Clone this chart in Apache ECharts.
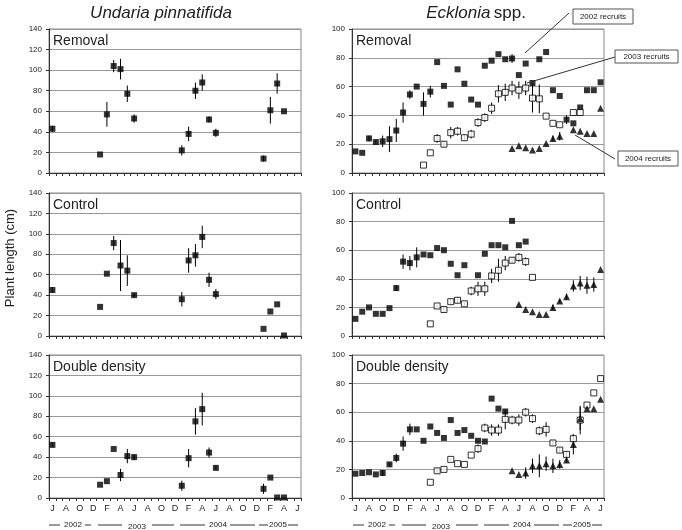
<!DOCTYPE html>
<html>
<head>
<meta charset="utf-8">
<script src="https://cdn.jsdelivr.net/npm/echarts@6.0.0/dist/echarts.min.js"></script>
<style>
  html, body { margin: 0; padding: 0; background: #fff; }
  #chart { width: 682px; height: 530px; }
</style>
</head>
<body>
<div id="chart"></div>
<script>
  const _ = null;

  // 37 months, June 2002 .. June 2005
  const months = ['J','J','A','S','O','N','D',
    'J','F','M','A','M','J','J','A','S','O','N','D',
    'J','F','M','A','M','J','J','A','S','O','N','D',
    'J','F','M','A','M','J'];
  const years = ['2002', '2003', '2004', '2005'];

  // Undaria pinnatifida (mean, +/- error)
  const uRemoval    = [43,_,_,_,_,_,_, 18,57,104,101,77,53, _,_,_,_,_,_, 22,38,80,88,52,39, _,_,_,_,_,_, 14,61,87,60,_,_];
  const uRemovalErr = [3,_,_,_,_,_,_, 0,12,6,10,8,4, _,_,_,_,_,_, 5,7,8,8,3,4, _,_,_,_,_,_, 3,13,10,0,_,_];
  const uControl    = [45,_,_,_,_,_,_, 28.5,61,91,69,64,40, _,_,_,_,_,_, 36,74,79,97,55,41, _,_,_,_,_,_, 7,24,31,0.5,_,_];
  const uControlErr = [3,_,_,_,_,_,_, 0,0,7,25,15,2, _,_,_,_,_,_, 7,12,11,11,7,5, _,_,_,_,_,_, 0,0,0,0,_,_];
  const uDouble     = [52,_,_,_,_,_,_, 13,16.5,48,22.5,41,40, _,_,_,_,_,_, 12,39,75,87,44.5,29.5, _,_,_,_,_,_, 9,20,0.5,0.5,_,_];
  const uDoubleErr  = [2,_,_,_,_,_,_, 0,0,0,6,7,3, _,_,_,_,_,_, 5,9,13,16,5,2, _,_,_,_,_,_, 5,0,0,0,_,_];

  // Ecklonia spp. - 2002 / 2003 / 2004 recruits
  const eRemoval02    = [15,14,24,21.5,22,23.5,29.5,42,54.5,60, 48,56.5,77,60.5,47.5,72,62,51,47.5,74.5, 78,82.5,79,79.5,68,76,62.5,79,84,57.5, 53.5,37,34.5,45.5,57.5,57.5,63];
  const eRemoval02Err = [0,0,2,1,4,9,8,7,3,0, 8,4,0,0,0,0,0,0,0,0, 0,0,0,3,0,0,0,0,0,0, 0,3,0,0,0,0,0];
  const eRemoval03    = [_,_,_,_,_,_,_,_,_,_, 5.5,14,24,20,28,29,24.5,27,35,38.5, 45,55,56,59,57.5,59,52,51.5,39.5,34.5, 33.5,_,42,42,_,_,_];
  const eRemoval03Err = [_,_,_,_,_,_,_,_,_,_, 0,0,3,2,4,3,2,3,3,3, 4,6,6,5,6,5,10,10,0,0, 0,_,0,0,_,_,_];
  const eRemoval04    = [_,_,_,_,_,_,_,_,_,_, _,_,_,_,_,_,_,_,_,_, _,_,_,17,19,17.5,16,17,20.5,24, 25.5,_,30,29,27.5,27.5,45];
  const eRemoval04Err = [_,_,_,_,_,_,_,_,_,_, _,_,_,_,_,_,_,_,_,_, _,_,_,0,0,0,0,0,0,2, 3,_,0,0,0,0,0];

  const eControl02    = [12,17,20,15.5,15.5,19.5,33.5,52,51,55, 57,56.5,61.5,60,50.5,42.5,49.5,_,42.5,57.5, 63.5,63.5,62,80.5,63.5,66,_,_,_,_, _,_,_,_,_,_,_];
  const eControl02Err = [0,0,0,0,0,0,2,5,5,7, 0,0,0,0,0,0,0,_,0,0, 0,0,0,0,0,0,_,_,_,_, _,_,_,_,_,_,_];
  const eControl03    = [_,_,_,_,_,_,_,_,_,_, _,8.5,21,18.5,24,25,22.5,31.5,33,33, 42,46,51,53,55,52,41,_,_,_, _,_,_,_,_,_,_];
  const eControl03Err = [_,_,_,_,_,_,_,_,_,_, _,0,1,2,2,2,1,3,5,5, 5,8,5,2,3,3,0,_,_,_, _,_,_,_,_,_,_];
  const eControl04    = [_,_,_,_,_,_,_,_,_,_, _,_,_,_,_,_,_,_,_,_, _,_,_,_,22,18.5,17,15,15,20, 24.5,27.5,35,37,35.5,36,46.5];
  const eControl04Err = [_,_,_,_,_,_,_,_,_,_, _,_,_,_,_,_,_,_,_,_, _,_,_,_,0,0,0,0,0,2, 1,2,4,5,6,5,0];

  const eDouble02    = [17,17.5,18,16.5,17.5,23.5,28,38,48,48, 40,50,45.5,42,54.5,45.5,47.5,43.5,40,39.5, 69.5,62.5,60.5,_,_,_,_,_,_,_, _,_,_,_,_,_,_];
  const eDouble02Err = [0,0,0,0,2,1,3,5,4,0, 0,0,0,0,0,0,0,0,0,0, 0,0,0,_,_,_,_,_,_,_, _,_,_,_,_,_,_];
  const eDouble03    = [_,_,_,_,_,_,_,_,_,_, _,11,19,20,27,24,23.5,30,34.5,49, 47.5,47.5,55,54.5,54.5,60,55.5,47,48,38.5, 33.5,30.5,41.5,54.5,65,73.5,83.5];
  const eDouble03Err = [_,_,_,_,_,_,_,_,_,_, _,0,2,1,1,0,0,0,3,3, 4,4,7,3,4,3,3,3,5,2, 2,2,3,10,0,0,0];
  const eDouble04    = [_,_,_,_,_,_,_,_,_,_, _,_,_,_,_,_,_,_,_,_, _,_,_,19,16.5,17.5,22.5,22.5,24,22.5, 23.5,26.5,37.5,55.5,62.5,62.5,69];
  const eDouble04Err = [_,_,_,_,_,_,_,_,_,_, _,_,_,_,_,_,_,_,_,_, _,_,_,0,0,4,5,8,5,5, 3,2,7,8,0,0,0];

  const FONT = 'Arial, "Liberation Sans", sans-serif';
  const LX = 49, RX = 352, W = 252;

  const panels = [
    { left: LX, top: 29,  h: 144, max: 140, label: 'Removal', sets: [[uRemoval, uRemovalErr, 'filled']] },
    { left: RX, top: 29,  h: 144, max: 100, label: 'Removal', sets: [[eRemoval02, eRemoval02Err, 'filled'], [eRemoval03, eRemoval03Err, 'open'], [eRemoval04, eRemoval04Err, 'tri']] },
    { left: LX, top: 193, h: 143, max: 140, label: 'Control', sets: [[uControl, uControlErr, 'filled']] },
    { left: RX, top: 193, h: 143, max: 100, label: 'Control', sets: [[eControl02, eControl02Err, 'filled'], [eControl03, eControl03Err, 'open'], [eControl04, eControl04Err, 'tri']] },
    { left: LX, top: 355, h: 143, max: 140, label: 'Double density', sets: [[uDouble, uDoubleErr, 'filled']] },
    { left: RX, top: 355, h: 143, max: 100, label: 'Double density', sets: [[eDouble02, eDouble02Err, 'filled'], [eDouble03, eDouble03Err, 'open'], [eDouble04, eDouble04Err, 'tri']] }
  ];

  const markStyle = {
    filled: { symbol: 'rect', symbolSize: 6, itemStyle: { color: '#000' } },
    open:   { symbol: 'rect', symbolSize: 6, itemStyle: { color: '#fff', borderColor: '#000', borderWidth: 1 } },
    tri:    { symbol: 'triangle', symbolSize: 7, itemStyle: { color: '#000' } }
  };

  function errBar(params, api) {
    const i = api.value(0), v = api.value(1), e = api.value(2);
    const a = api.coord([i, v + e]);
    const b = api.coord([i, v - e]);
    return { type: 'line', shape: { x1: a[0], y1: a[1], x2: b[0], y2: b[1] }, style: { stroke: '#000', lineWidth: 1 } };
  }

  const grid = [], xAxis = [], yAxis = [], series = [], graphic = [];
  panels.forEach((p, k) => {
    grid.push({ left: p.left, top: p.top, width: W, height: p.h, show: true, borderColor: '#888', borderWidth: 1 });
    xAxis.push({
      gridIndex: k, type: 'category', data: months, boundaryGap: true,
      axisLine: { show: true, onZero: false, lineStyle: { color: '#333' } },
      axisTick: { show: true, interval: 0, length: 3, lineStyle: { color: '#333' } },
      axisLabel: { show: k >= 4, interval: 1, fontSize: 9, color: '#222', margin: 6, fontFamily: FONT },
      splitLine: { show: false }
    });
    yAxis.push({
      gridIndex: k, type: 'value', min: 0, max: p.max, interval: 20,
      axisLine: { show: true, lineStyle: { color: '#333' } },
      axisTick: { show: true, length: 3, lineStyle: { color: '#333' } },
      axisLabel: { fontSize: 8, color: '#222', margin: 7, fontFamily: FONT },
      splitLine: { show: true, lineStyle: { color: '#999', width: 1 } }
    });
    p.sets.forEach(s => {
      const vals = s[0], errs = s[1];
      const pts = [], bars = [];
      vals.forEach((v, i) => {
        if (v == null) return;
        pts.push([i, v]);
        if (errs[i]) bars.push([i, v, errs[i]]);
      });
      series.push({ type: 'custom', xAxisIndex: k, yAxisIndex: k, renderItem: errBar, data: bars, z: 2, silent: true, encode: { x: 0, y: 1 } });
      series.push(Object.assign({ type: 'scatter', xAxisIndex: k, yAxisIndex: k, data: pts, z: 3, silent: true }, markStyle[s[2]]));
    });
    graphic.push({ type: 'text', x: p.left + 4, y: p.top + 5, z: 10,
      style: { text: p.label, font: '14px ' + FONT, fill: '#222' } });
  });

  // column titles
  graphic.push({ type: 'text', x: 161, y: 13, style: { text: 'Undaria pinnatifida', font: 'italic 17px ' + FONT, fill: '#222', align: 'center', verticalAlign: 'middle' } });
  graphic.push({ type: 'text', x: 476, y: 13, style: {
    text: '{i|Ecklonia} {n|spp.}', align: 'center', verticalAlign: 'middle',
    rich: { i: { font: 'italic 17px ' + FONT, fill: '#222' }, n: { font: '17px ' + FONT, fill: '#222' } } } });
  // y axis name
  graphic.push({ type: 'text', x: 10, y: 258, rotation: Math.PI / 2,
    style: { text: 'Plant length (cm)', font: '13px ' + FONT, fill: '#222', align: 'center', verticalAlign: 'middle' } });

  // year bands under bottom axes
  const yearSegs = [[49, 60], [85, 91], [98, 122], [152, 174], [180, 205], [230, 255], [259, 268], [288, 298]];
  const yearPos = [[73, 525], [137, 527], [218, 525], [278, 525]];
  [0, 304].forEach(off => {
    yearSegs.forEach(s => graphic.push({ type: 'line', shape: { x1: s[0] + off, y1: 525, x2: s[1] + off, y2: 525 }, style: { stroke: '#333', lineWidth: 1 } }));
    yearPos.forEach((q, j) => graphic.push({ type: 'text', x: q[0] + off, y: q[1],
      style: { text: years[j], font: '8px ' + FONT, fill: '#222', align: 'center', verticalAlign: 'middle' } }));
  });

  // recruit cohort call-outs
  const notes = [
    { text: '2002 recruits', box: [573, 9, 60, 15], line: [569, 13, 525, 53] },
    { text: '2003 recruits', box: [615, 50, 63, 13], line: [615, 57, 527, 83] },
    { text: '2004 recruits', box: [618, 151, 60, 15], line: [615, 159, 575, 135] }
  ];
  notes.forEach(n => {
    graphic.push({ type: 'line', z: 20, shape: { x1: n.line[0], y1: n.line[1], x2: n.line[2], y2: n.line[3] }, style: { stroke: '#333', lineWidth: 1 } });
    graphic.push({ type: 'rect', z: 20, shape: { x: n.box[0], y: n.box[1], width: n.box[2], height: n.box[3] }, style: { fill: '#fff', stroke: '#555', lineWidth: 1 } });
    graphic.push({ type: 'text', z: 21, x: n.box[0] + n.box[2] / 2, y: n.box[1] + n.box[3] / 2,
      style: { text: n.text, font: '8px ' + FONT, fill: '#222', align: 'center', verticalAlign: 'middle' } });
  });

  const chart = echarts.init(document.getElementById('chart'), null, { renderer: 'canvas' });
  chart.setOption({
    animation: false,
    backgroundColor: '#fff',
    textStyle: { fontFamily: FONT },
    grid, xAxis, yAxis, series, graphic
  });
</script>
</body>
</html>
